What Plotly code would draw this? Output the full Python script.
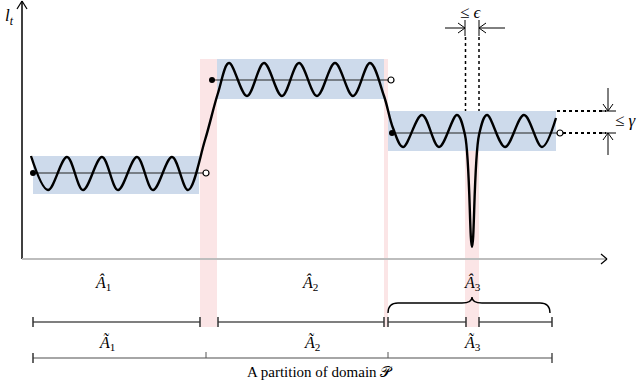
import plotly.graph_objects as go

# schematic in pixel-like units (x to the right, y downward)
levels = [173, 80, 133]
box_x0 = [33, 217, 388]
box_x1 = [199, 384, 556]
box_y0 = [156, 59, 111]
box_y1 = [194, 99, 151]
dot_start = [33, 212, 392]
dot_end = [206, 391, 560]

# peaks / troughs of the signal l_t
curve_x = [31, 48, 67, 83, 102, 118, 137, 153, 172, 188, 205, 218,
           229, 247, 264, 282, 299, 317, 335, 353, 370, 384, 393,
           403, 422, 439, 457, 465, 472, 479, 487, 505, 524, 542, 556]
curve_y = [156, 190, 157, 190, 157, 190, 157, 190, 157, 190, 140, 93,
           63, 96, 63, 96, 63, 96, 63, 96, 63, 96, 128,
           147, 115, 147, 115, 135, 247, 135, 115, 147, 115, 147, 118]

pink_x0 = [200, 384, 465]
pink_x1 = [217, 388, 479]
pink_y0 = [59, 59, 111]
pink_y1 = [327, 327, 327]

hat_x = [103, 310, 472]
tilde_x = [107, 312, 472]

row1_segments = [(33, 200), (218, 384), (388, 466), (479, 552)]
row2_ticks = [206, 388]

fig = go.Figure()


def seg(x0, y0, x1, y1, color="black", width=1, dash=None):
    fig.add_shape(type="line", x0=x0, y0=y0, x1=x1, y1=y1, xref="x", yref="y",
                  line=dict(color=color, width=width, dash=dash))


def rect(x0, y0, x1, y1, color):
    fig.add_shape(type="rect", x0=x0, y0=y0, x1=x1, y1=y1, xref="x", yref="y",
                  fillcolor=color, line=dict(width=0), layer="below")


def text(x, y, s, size=16, anchor="center"):
    fig.add_annotation(x=x, y=y, text=s, showarrow=False, xanchor=anchor,
                       font=dict(family="Liberation Serif", size=size, color="black"))


for i in range(3):
    rect(pink_x0[i], pink_y0[i], pink_x1[i], pink_y1[i], "rgb(251,229,230)")
    rect(box_x0[i], box_y0[i], box_x1[i], box_y1[i], "rgb(205,218,235)")

# axes
seg(22, 1, 22, 259, width=1.5)
seg(17, 9, 22, 1, width=1.2)
seg(27, 9, 22, 1, width=1.2)
seg(22, 259, 606, 259, color="#bdbdbd", width=2)
seg(601, 254, 607, 259, width=1.2)
seg(601, 264, 607, 259, width=1.2)
text(9, 17, "<i>l<sub>t</sub></i>", size=17)

# mean lines with end points
for i in range(3):
    fig.add_trace(go.Scatter(x=[dot_start[i], dot_end[i]], y=[levels[i], levels[i]],
                             mode="lines", line=dict(color="#222", width=1.2),
                             showlegend=False, hoverinfo="skip"))
fig.add_trace(go.Scatter(x=curve_x, y=curve_y, mode="lines",
                         line=dict(color="black", width=2.4, shape="spline", smoothing=1),
                         showlegend=False, hoverinfo="skip"))
fig.add_trace(go.Scatter(x=dot_start, y=levels, mode="markers",
                         marker=dict(color="black", size=6), showlegend=False))
fig.add_trace(go.Scatter(x=dot_end, y=levels, mode="markers",
                         marker=dict(color="white", size=6, line=dict(color="black", width=1.2)),
                         showlegend=False))

# epsilon
seg(465.5, 37, 465.5, 111, width=1.5, dash="dot")
seg(479, 37, 479, 111, width=1.5, dash="dot")
seg(445, 28, 465, 28)
seg(458, 23, 465, 28)
seg(458, 33, 465, 28)
seg(465, 20, 465, 36)
seg(505, 28, 479, 28)
seg(486, 23, 479, 28)
seg(486, 33, 479, 28)
seg(479, 20, 479, 36)
text(471, 12, "≤ <i>ϵ</i>", size=17)

# gamma
seg(557, 111, 606, 111, width=2, dash="dot")
seg(563, 133, 606, 133, width=2, dash="dot")
seg(608, 88, 608, 111)
seg(603, 104, 608, 111)
seg(613, 104, 608, 111)
seg(600, 111, 616, 111)
seg(608, 155, 608, 133)
seg(603, 140, 608, 133)
seg(613, 140, 608, 133)
seg(600, 133, 616, 133)
text(613, 120, "≤ <i>γ</i>", size=17, anchor="left")

# hat / tilde labels
for i in range(3):
    text(hat_x[i], 283, "<i>Â</i><sub>%d</sub>" % (i + 1))
    text(tilde_x[i], 343, "<i>Ã</i><sub>%d</sub>" % (i + 1))

# row 1 partition
for a, b in row1_segments:
    seg(a, 322, b, 322, color="#555", width=1.3)
    seg(a, 317, a, 327, color="#333", width=1.5)
    seg(b, 317, b, 327, color="#333", width=1.5)

# brace over A3
fig.add_shape(type="path", xref="x", yref="y",
              path="M 388,313 Q 388,303 398,303 L 462,303 Q 472,303 472,297 "
                   "Q 472,303 482,303 L 540,303 Q 550,303 550,313",
              line=dict(color="black", width=1.4))

# row 2 partition
seg(33, 358, 552, 358, color="#888", width=1.3)
seg(33, 353, 33, 363, color="#333", width=1.5)
seg(552, 353, 552, 363, color="#333", width=1.3)
for t in row2_ticks:
    seg(t, 352, t, 358, color="#555", width=1)
text(320, 372, "A partition of domain 𝒫", size=15)

fig.update_layout(width=640, height=382, margin=dict(l=0, r=0, t=0, b=0),
                  paper_bgcolor="white", plot_bgcolor="white",
                  xaxis=dict(range=[0, 640], visible=False),
                  yaxis=dict(range=[382, 0], visible=False))
fig.write_html("out.html", config={"displayModeBar": False},
               post_script="document.body.style.margin='0';")
